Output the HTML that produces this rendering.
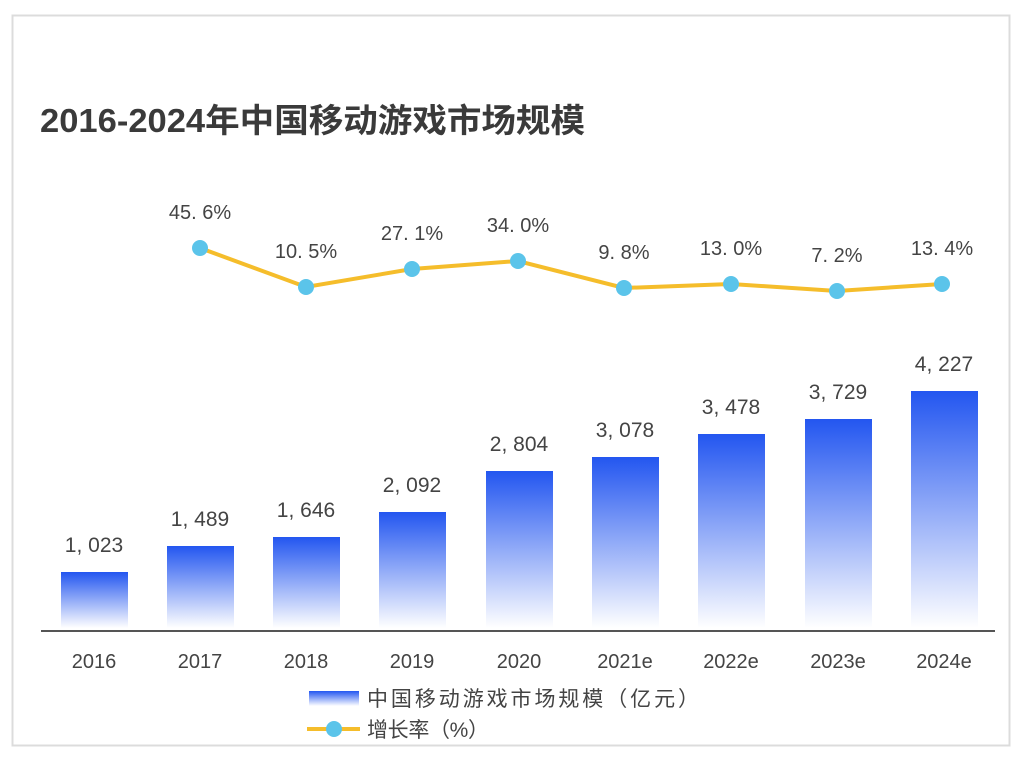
<!DOCTYPE html>
<html><head><meta charset="utf-8"><style>
body{margin:0;background:#fff;width:1024px;height:766px;overflow:hidden}
svg text{font-family:"Liberation Sans","Noto Sans CJK SC",sans-serif;fill:#444}
</style></head><body>
<svg width="1024" height="766" xmlns="http://www.w3.org/2000/svg">
<defs><linearGradient id="g" x1="0" y1="0" x2="0" y2="1">
<stop offset="0" stop-color="#2356f0"/><stop offset="1" stop-color="#ffffff"/></linearGradient></defs>
<rect x="12.5" y="15.5" width="997" height="730" fill="#fff" stroke="#dcdcdc" stroke-width="2"/>
<text x="40" y="132" font-size="33" font-weight="bold" textLength="545" lengthAdjust="spacingAndGlyphs" style="fill:#3a3a3a">2016-2024年中国移动游戏市场规模</text>
<g fill="url(#g)">
<rect x="61" y="572" width="67" height="56"/>
<rect x="167" y="546" width="67" height="82"/>
<rect x="273" y="537" width="67" height="91"/>
<rect x="379" y="512" width="67" height="116"/>
<rect x="486" y="471" width="67" height="157"/>
<rect x="592" y="457" width="67" height="171"/>
<rect x="698" y="434" width="67" height="194"/>
<rect x="805" y="419" width="67" height="209"/>
<rect x="911" y="391" width="67" height="237"/>
</g>
<line x1="41" y1="631" x2="995" y2="631" stroke="#555" stroke-width="2"/>
<g font-size="21" text-anchor="middle">
<text x="94" y="552">1, 023</text><text x="200" y="526">1, 489</text><text x="306" y="517">1, 646</text>
<text x="412" y="492">2, 092</text><text x="519" y="451">2, 804</text><text x="625" y="437">3, 078</text>
<text x="731" y="414">3, 478</text><text x="838" y="399">3, 729</text><text x="944" y="371">4, 227</text>
</g>
<g font-size="20" text-anchor="middle">
<text x="94" y="668">2016</text><text x="200" y="668">2017</text><text x="306" y="668">2018</text>
<text x="412" y="668">2019</text><text x="519" y="668">2020</text><text x="625" y="668">2021e</text>
<text x="731" y="668">2022e</text><text x="838" y="668">2023e</text><text x="944" y="668">2024e</text>
</g>
<polyline points="200,248 306,287 412,269 518,261 624,288 731,284 837,291 942,284" fill="none" stroke="#f5bd2b" stroke-width="4"/>
<g fill="#5bc4ea">
<circle cx="200" cy="248" r="8"/><circle cx="306" cy="287" r="8"/><circle cx="412" cy="269" r="8"/><circle cx="518" cy="261" r="8"/>
<circle cx="624" cy="288" r="8"/><circle cx="731" cy="284" r="8"/><circle cx="837" cy="291" r="8"/><circle cx="942" cy="284" r="8"/>
</g>
<g font-size="20" text-anchor="middle">
<text x="200" y="219">45. 6%</text><text x="306" y="258">10. 5%</text><text x="412" y="240">27. 1%</text>
<text x="518" y="232">34. 0%</text><text x="624" y="259">9. 8%</text><text x="731" y="255">13. 0%</text>
<text x="837" y="262">7. 2%</text><text x="942" y="255">13. 4%</text>
</g>
<rect x="309" y="691" width="50" height="15" fill="url(#g)"/>
<text x="367" y="706" font-size="21" textLength="332" lengthAdjust="spacing">中国移动游戏市场规模（亿元）</text>
<line x1="307" y1="729" x2="360" y2="729" stroke="#f5bd2b" stroke-width="4"/>
<circle cx="334" cy="729" r="8" fill="#5bc4ea"/>
<text x="367" y="737" font-size="21" textLength="122" lengthAdjust="spacing">增长率（%）</text>
</svg>
</body></html>
